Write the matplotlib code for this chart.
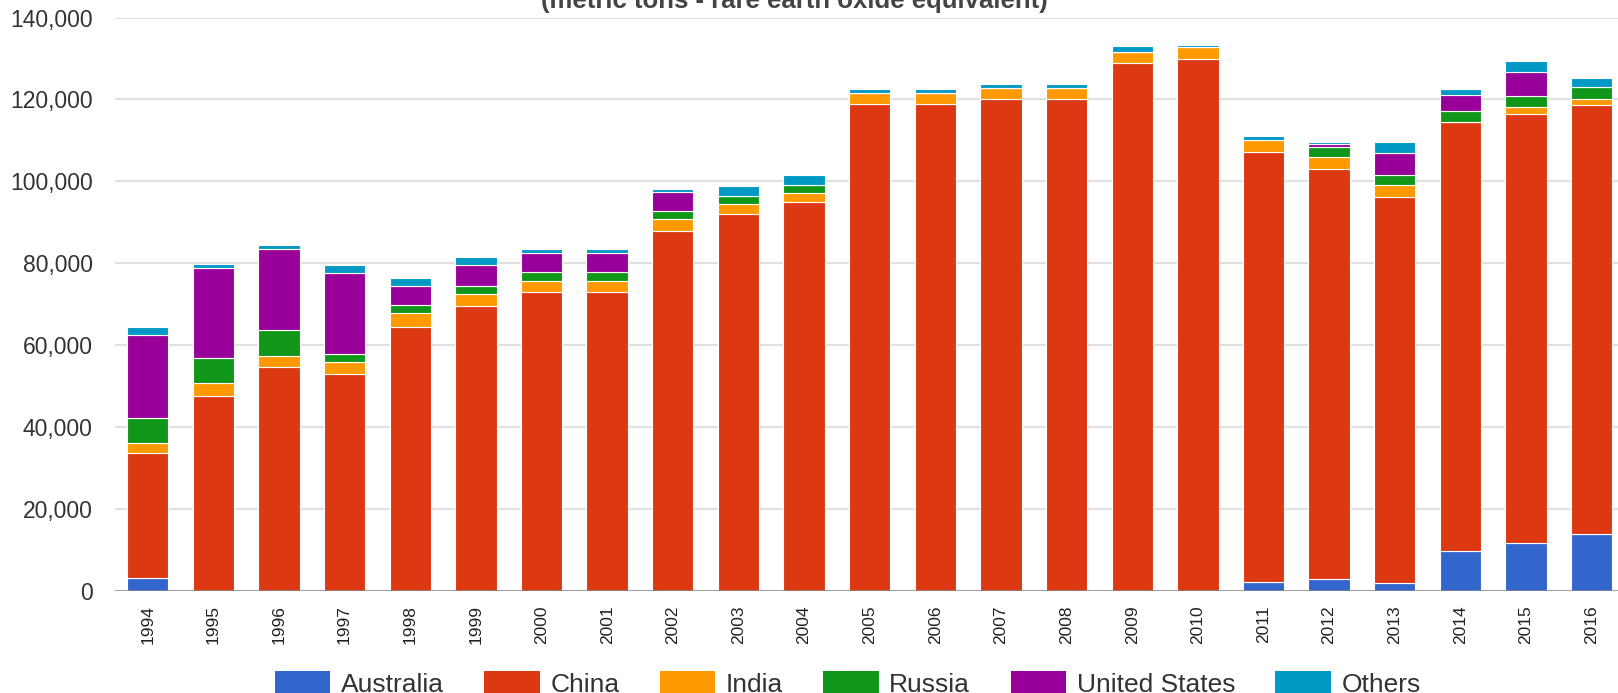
import numpy as np
import matplotlib
matplotlib.use("Agg")
import matplotlib.pyplot as plt
from matplotlib.ticker import FuncFormatter
from matplotlib.patches import Patch

plt.rcParams['font.family'] = ['Liberation Sans', 'DejaVu Sans']

# rare earth production, metric tons of oxide equivalent
years = [str(y) for y in range(1994, 2017)]
australia = [3200, 0, 0, 0, 0, 0, 0, 0, 0, 0, 0, 0, 0, 0, 0, 0, 0,
             2200, 3000, 2000, 9800, 11700, 14000]
china = [30500, 47700, 54700, 53000, 64500, 69500, 73000, 73000, 88000, 92000,
         95000, 119000, 119000, 120000, 120000, 129000, 130000, 105000,
         100000, 94200, 104800, 104800, 104600]
india = [2500, 3000, 2700, 3000, 3300, 3000, 2800, 2800, 2800, 2500, 2100,
         2500, 2500, 2700, 2700, 2700, 2700, 2800, 2900, 3000, 0, 1600, 1500]
russia = [6200, 6100, 6300, 2000, 2000, 2100, 2000, 2000, 2000, 2000, 2000,
          0, 0, 0, 0, 0, 0, 0, 2400, 2300, 2500, 2800, 3000]
united_states = [20200, 22100, 19800, 19600, 4700, 5100, 4700, 4700, 4700, 0, 0,
                 0, 0, 0, 0, 0, 0, 0, 800, 5500, 4000, 5900, 0]
others = [1900, 1000, 1100, 1900, 1900, 1800, 900, 900, 600, 2500, 2500,
          1000, 1000, 1200, 1200, 1300, 600, 1100, 500, 2600, 1400, 2500, 2200]

series = [
    ("Australia", australia, "#3366cc"),
    ("China", china, "#dc3912"),
    ("India", india, "#ff9900"),
    ("Russia", russia, "#109618"),
    ("United States", united_states, "#990099"),
    ("Others", others, "#0099c6"),
]

fig = plt.figure(figsize=(16.18, 6.93), dpi=100)
ax = fig.add_axes([0.071, 0.1468, 0.933, 0.8279])

x = np.arange(len(years))
bottom = np.zeros(len(years))
for name, vals, col in series:
    vals = np.array(vals, dtype=float)
    ax.bar(x, vals, width=0.63, bottom=bottom, color=col,
           edgecolor="white", linewidth=0.8, zorder=3)
    bottom += vals

ax.set_xlim(-0.5, len(years) - 0.5)
ax.set_ylim(0, 140000)
ax.set_yticks(np.arange(0, 140001, 20000))
ax.yaxis.set_major_formatter(FuncFormatter(lambda v, p: f"{int(v):,}"))
ax.set_xticks(x)
ax.set_xticklabels(years, rotation=90)

ax.grid(axis="y", color="#e0e0e0", linewidth=1.5, zorder=0)
ax.axhline(0, color="#888888", linewidth=1.8, zorder=4)
for s in ax.spines.values():
    s.set_visible(False)
ax.tick_params(axis="y", length=0, pad=16, labelsize=16.5, labelcolor="#333333")
ax.tick_params(axis="x", length=0, pad=10, labelsize=12.5, labelcolor="#222222")

fig.text(0.491, 1 - 8 / 693, "(metric tons - rare earth oxide equivalent)",
         ha="center", va="baseline", fontsize=18.5, fontweight="bold",
         color="#444444")

handles = [Patch(facecolor=col, edgecolor="none") for _, _, col in series]
labels = [name for name, _, _ in series]
fig.legend(handles, labels, loc="upper center", ncol=6,
           bbox_to_anchor=(0.524, 1 - 655 / 693), frameon=False,
           fontsize=19, handlelength=2.1, handleheight=1.1,
           handletextpad=0.4, columnspacing=1.53, borderpad=0.1,
           labelcolor="#333333")

fig.savefig("out.png", dpi=100)
